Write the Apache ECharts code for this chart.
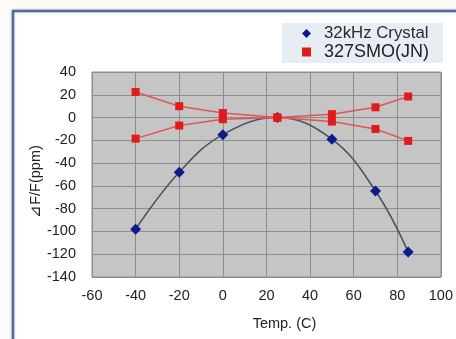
<!DOCTYPE html>
<html><head><meta charset="utf-8">
<script src="https://cdn.jsdelivr.net/npm/echarts@6/dist/echarts.min.js"></script>
<style>html,body{margin:0;padding:0;background:#fdfaf8;}#c{width:456px;height:339px;}</style>
</head><body><div id="c"></div>
<script>
const temps = [-40, -20, 0, 25, 50, 70, 85];
const crystal = [-98, -48, -15, 0, -19, -64.5, -118];
const smoUpper = [22.5, 10, 4, 0, 3, 9, 18.5];
const smoLower = [-18.5, -7, -1.5, 0, -3.5, -10, -20.5];
const xTicks = {min: -60, max: 100, interval: 20};
const yTicks = {min: -140, max: 40, interval: 20};
const names = ['32kHz Crystal', '327SMO(JN)'];

const pair = (xs, ys) => xs.map((x, i) => [x, ys[i]]);
const chart = echarts.init(document.getElementById('c'));
chart.setOption({
  animation: false,
  textStyle: {fontFamily: 'Liberation Sans, Arial, sans-serif'},
  graphic: [{
    type: 'rect', z: -10, silent: true,
    shape: {x: 13, y: 11, width: 470, height: 360},
    style: {fill: '#ffffff', stroke: '#4f6d96', lineWidth: 2.5,
            shadowBlur: 3, shadowColor: 'rgba(60,80,120,0.35)'}
  }],
  grid: {left: 92, top: 72, width: 350, height: 205,
         show: true, backgroundColor: '#c5c5c5', borderColor: '#8c8c8c', borderWidth: 1},
  legend: {
    data: [{name: names[0], icon: 'diamond'}, {name: names[1], icon: 'rect'}],
    orient: 'vertical', left: 282, top: 23,
    backgroundColor: '#e6edf3', padding: [2, 14, 2, 20],
    itemWidth: 9, itemHeight: 9, itemGap: 1,
    formatter: n => n === names[0] ? '{a|' + n + '}' : '{b|' + n + '}',
    textStyle: {color: '#222', padding: [0, 0, 0, 8],
      rich: {a: {fontSize: 16.8, color: '#2a2a2a', lineHeight: 19},
             b: {fontSize: 18, color: '#222', lineHeight: 20}}}
  },
  xAxis: {
    type: 'value', min: xTicks.min, max: xTicks.max, interval: xTicks.interval,
    name: 'Temp. (C)', nameLocation: 'middle', nameGap: 39, nameMoveOverlap: false,
    nameTextStyle: {fontSize: 14.5, color: '#222', padding: [0, 0, 0, 36]},
    axisLine: {show: false}, axisTick: {show: false},
    axisLabel: {fontSize: 14.5, color: '#222', margin: 11},
    splitLine: {show: true, lineStyle: {color: '#8c8c8c', width: 1}}
  },
  yAxis: {
    type: 'value', min: yTicks.min, max: yTicks.max, interval: yTicks.interval,
    name: '⊿F/F(ppm)', nameLocation: 'middle', nameGap: 49, nameMoveOverlap: false,
    nameTextStyle: {fontSize: 14.5, color: '#222', padding: [0, 0, 0, -14]},
    axisLine: {show: false}, axisTick: {show: false},
    axisLabel: {fontSize: 14.5, color: '#222', margin: 16},
    splitLine: {show: true, lineStyle: {color: '#8c8c8c', width: 1}}
  },
  series: [
    {name: names[0], type: 'line', smooth: 0.4, z: 2,
     data: pair(temps, crystal), symbol: 'diamond', symbolSize: 11,
     itemStyle: {color: '#0d1a8c'}, lineStyle: {color: '#4b5560', width: 1.6}},
    {name: names[1], type: 'line', z: 3,
     data: pair(temps, smoUpper), symbol: 'rect', symbolSize: 8,
     itemStyle: {color: '#e01b1b'}, lineStyle: {color: '#e05555', width: 1.5}},
    {name: names[1], type: 'line', z: 3,
     data: pair(temps, smoLower), symbol: 'rect', symbolSize: 8,
     itemStyle: {color: '#e01b1b'}, lineStyle: {color: '#e05555', width: 1.5}}
  ]
});
</script></body></html>
